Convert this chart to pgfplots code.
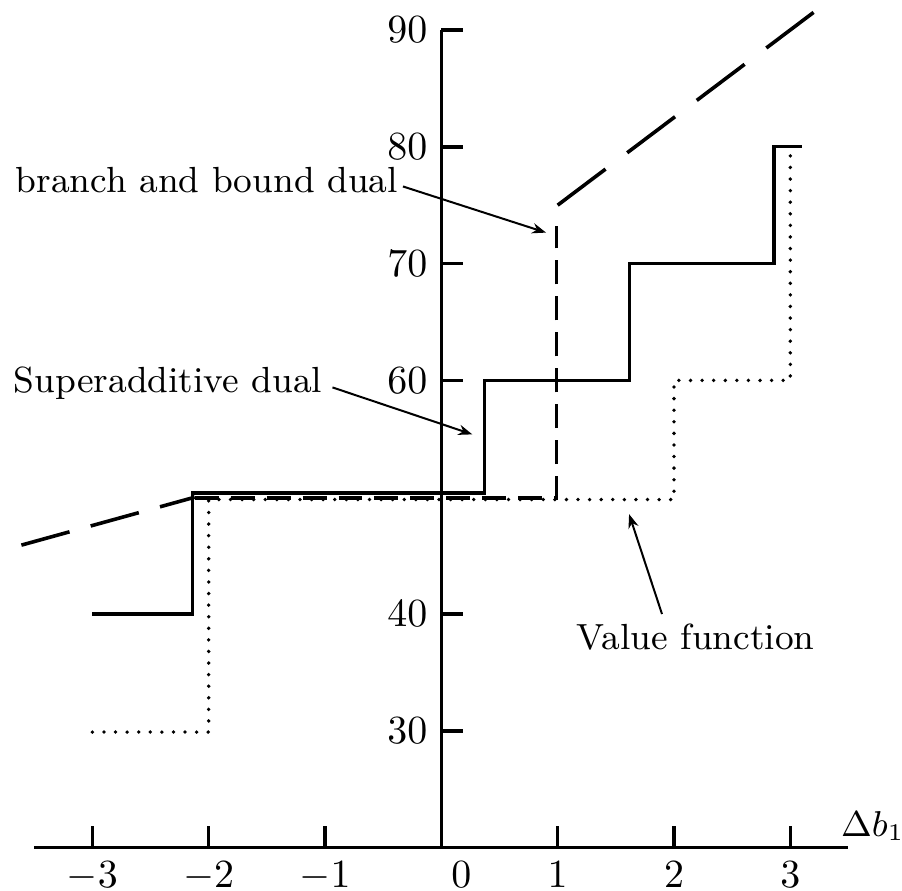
\documentclass[border=0pt]{standalone}
\usepackage{pgfplots}
\pgfplotsset{compat=1.18}
\usetikzlibrary{arrows.meta}

\begin{document}
\begin{tikzpicture}
\begin{axis}[
    x=29.125pt, y=2.925pt,
    xmin=-3.5, xmax=3.5,
    ymin=20, ymax=90,
    axis x line*=bottom,
    axis y line*=middle,
    axis line style={line width=0.9pt},
    xtick={-3,-2,-1,0,1,2,3},
    xticklabels={$-3$,$-2$,$-1$,\hspace*{10pt}$0$,$1$,$2$,$3$},
    ytick={30,40,60,70,80,90},
    tick align=inside,
    major tick length=5.5pt,
    tick style={line width=0.9pt, black},
    tick label style={font=\fontsize{9.6}{11}\selectfont},
    clip=false,
]

% value function
\addplot[black, line width=0.95pt, line cap=round, dash pattern=on 0pt off 2.9pt] coordinates {
    (-3,29.9) (-2,29.9) (-2,49.8) (2,49.8) (2,60) (3,60) (3,80)
};

% branch and bound dual
\addplot[black, line width=0.9pt, dash pattern=on 12.5pt off 5.5pt] coordinates {
    (-3.61,45.9) (-2.12,50)
};
\addplot[black, line width=0.95pt, dash pattern=on 6pt off 3pt] coordinates {
    (-2.12,49.95) (0.99,49.95) (0.99,73.2)
};
\addplot[black, line width=0.9pt, dash pattern=on 15pt off 6.8pt] coordinates {
    (1.0,75) (3.2,91.5)
};

% superadditive dual
\addplot[black, line width=0.85pt] coordinates {
    (-3,40) (-2.14,40) (-2.14,50.35) (0.37,50.35) (0.37,60) (1.62,60)
    (1.62,70) (2.86,70) (2.86,80) (3.1,80)
};

\coordinate (bbl) at (axis cs:-3.794,16.32);
\coordinate (btr) at (axis cs:3.96,92.56);

\begin{scope}[font=\fontsize{9.1}{11}\selectfont]
\node[anchor=base west, inner sep=0] at (axis cs:-3.665,76.07) {branch and bound dual};
\node[anchor=base west, inner sep=0] at (axis cs:-3.682,58.97) {Superadditive dual};
\node[anchor=base west, inner sep=0] at (axis cs:1.159,37.0) {Value function};
\end{scope}
\node[anchor=base west, inner sep=0, font=\fontsize{9.2}{11}\selectfont] at (axis cs:3.43,20.94) {$\Delta b_1$};

\draw[line width=0.5pt, -{Stealth[length=3.5pt,width=2.6pt]}] (axis cs:-0.33,76.6) -- (axis cs:0.90,72.65);
\draw[line width=0.5pt, -{Stealth[length=3.5pt,width=2.6pt]}] (axis cs:-0.936,59.4) -- (axis cs:0.266,55.38);
\draw[line width=0.5pt, -{Stealth[length=3.5pt,width=2.6pt]}] (axis cs:1.897,40.0) -- (axis cs:1.614,48.55);

\end{axis}
\pgfresetboundingbox
\path[use as bounding box] (bbl) rectangle (btr);
\end{tikzpicture}
\end{document}
